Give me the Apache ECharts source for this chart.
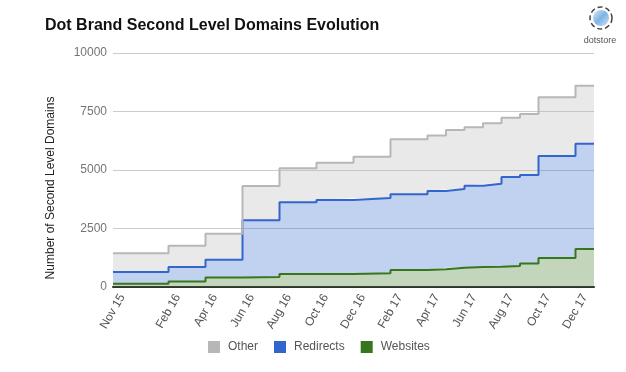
<!DOCTYPE html>
<html>
<head>
<meta charset="utf-8">
<script src="https://cdn.jsdelivr.net/npm/echarts@6/dist/echarts.min.js"></script>
<style>
html,body{margin:0;padding:0;background:#fff;}
#chart{width:626px;height:372px;}
</style>
</head>
<body>
<div id="chart"></div>
<script>
// Monthly categories of the time span (each month is one step slot)
const months = ['Nov 15','Dec 15','Jan 16','Feb 16','Mar 16','Apr 16','May 16','Jun 16','Jul 16','Aug 16','Sep 16','Oct 16','Nov 16','Dec 16','Jan 17','Feb 17','Mar 17','Apr 17','May 17','Jun 17','Jul 17','Aug 17','Sep 17','Oct 17','Nov 17','Dec 17'];
const endBoundary = 'Jan 18';
// Tick labels shown on the axis
const tickLabels = ['Nov 15','Feb 16','Apr 16','Jun 16','Aug 16','Oct 16','Dec 16','Feb 17','Apr 17','Jun 17','Aug 17','Oct 17','Dec 17'];
// Months where the counts were reported
const pointMonths = ['Nov 15','Feb 16','Apr 16','Jun 16','Aug 16','Oct 16','Dec 16','Feb 17','Apr 17','May 17','Jun 17','Jul 17','Aug 17','Sep 17','Oct 17','Dec 17'];
// Series values (stacked: Websites + Redirects + Other)
const websites  = [140, 240, 410, 430, 555, 560, 590, 725, 755, 825, 855, 870, 900, 1000, 1240, 1625];
const redirects = [500, 615, 755, 2420, 3065, 3160, 3215, 3235, 3350, 3365, 3475, 3545, 3800, 3790, 4360, 4500];
const other     = [800, 910, 1115, 1465, 1455, 1595, 1760, 2350, 2365, 2520, 2495, 2580, 2535, 2605, 2505, 2480];

function toPairs(vals) {
  const pairs = pointMonths.map((m, i) => [m, vals[i]]);
  // close the last step at the right edge of the final month
  pairs.push([endBoundary, vals[vals.length - 1]]);
  return pairs;
}

const colors = { Other: '#b7b7b7', Redirects: '#3366cc', Websites: '#38761d' };

function mkSeries(name, vals) {
  return {
    name: name,
    type: 'line',
    xAxisIndex: 0,
    stack: 'total',
    step: 'end',
    symbol: 'none',
    data: toPairs(vals),
    color: colors[name],
    lineStyle: { width: 2, color: colors[name] },
    areaStyle: { color: colors[name], opacity: 0.3 },
    itemStyle: { color: colors[name] },
    emphasis: { disabled: true },
    animation: false
  };
}

const chart = echarts.init(document.getElementById('chart'), null, { renderer: 'canvas' });
chart.setOption({
  animation: false,
  backgroundColor: '#ffffff',
  title: {
    text: 'Dot Brand Second Level Domains Evolution',
    left: 45, top: 18, padding: 0,
    textStyle: { fontFamily: 'Liberation Sans, Arial, sans-serif', fontSize: 16, fontWeight: 'bold', color: '#111' }
  },
  grid: { left: 113, right: 32, top: 53, bottom: 85 },
  legend: {
    data: ['Other', 'Redirects', 'Websites'],
    left: 208, top: 341, padding: 0,
    icon: 'rect',
    itemWidth: 12, itemHeight: 12,
    itemGap: 16,
    textStyle: { fontFamily: 'Liberation Sans, Arial, sans-serif', fontSize: 12, color: '#555', padding: [0, 0, 0, 3] },
    selectedMode: false
  },
  xAxis: [
    {
      type: 'category',
      data: months.concat([endBoundary]),
      boundaryGap: false,
      show: false
    },
    {
      type: 'category',
      data: months,
      boundaryGap: true,
      position: 'bottom',
      axisLine: { show: true, lineStyle: { color: '#333', width: 2 } },
      axisTick: { show: false },
      axisLabel: {
        interval: function (idx, val) { return tickLabels.indexOf(val) >= 0; },
        rotate: 60,
        margin: 8,
        fontFamily: 'Liberation Sans, Arial, sans-serif',
        fontSize: 12,
        color: '#555'
      },
      splitLine: { show: false }
    }
  ],
  yAxis: {
    type: 'value',
    min: 0, max: 10000, interval: 2500,
    axisLine: { show: false },
    axisTick: { show: false },
    axisLabel: {
      margin: 6,
      formatter: function (v) { return String(v); },
      fontFamily: 'Liberation Sans, Arial, sans-serif', fontSize: 12, color: '#757575'
    },
    splitLine: { lineStyle: { color: '#cccccc', width: 1 } }
  },
  graphic: [
    {
      type: 'text',
      x: 51, y: 188,
      rotation: Math.PI / 2,
      style: {
        text: 'Number of Second Level Domains',
        fontFamily: 'Liberation Sans, Arial, sans-serif',
        fontSize: 12,
        fill: '#222',
        textAlign: 'center',
        textVerticalAlign: 'middle'
      }
    },
    {
      type: 'circle',
      shape: { cx: 601, cy: 18, r: 11 },
      style: { fill: 'none', stroke: '#444', lineWidth: 1.5, lineDash: [5, 3] }
    },
    {
      type: 'circle',
      shape: { cx: 601, cy: 18, r: 8 },
      style: {
        fill: new echarts.graphic.LinearGradient(0, 0, 1, 1, [
          { offset: 0, color: '#d6e8f8' },
          { offset: 0.5, color: '#7fb3e6' },
          { offset: 1, color: '#cfe3f6' }
        ])
      }
    },
    {
      type: 'text',
      x: 600, y: 41,
      style: {
        text: 'dotstore',
        fontFamily: 'Liberation Sans, Arial, sans-serif',
        fontSize: 9,
        fill: '#555',
        textAlign: 'center',
        textVerticalAlign: 'middle'
      }
    }
  ],
  series: [
    mkSeries('Websites', websites),
    mkSeries('Redirects', redirects),
    mkSeries('Other', other)
  ]
});
</script>
</body>
</html>
